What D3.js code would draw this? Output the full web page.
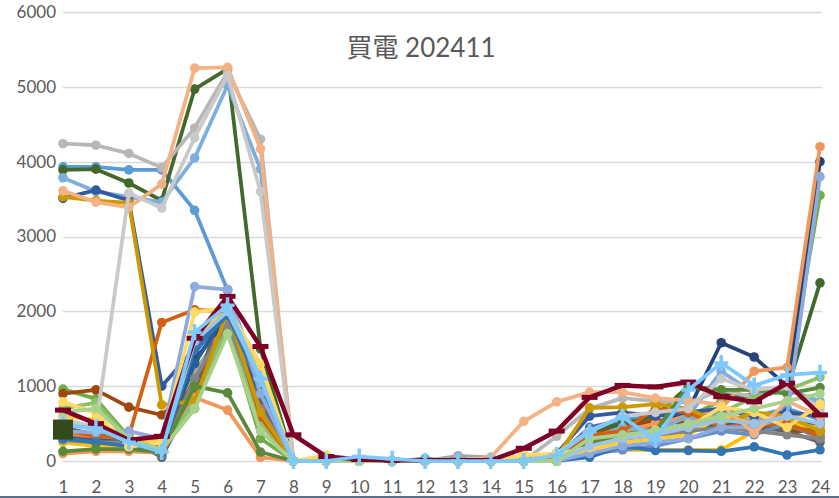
<!DOCTYPE html>
<html><head><meta charset="utf-8">
<script src="https://cdn.jsdelivr.net/npm/d3@7"></script>
<style>
body{margin:0;background:#fff;}
text{font-family:Lato,"Noto Sans CJK TC",sans-serif;}
</style></head>
<body><svg id="c" width="839" height="498"></svg>
<script>
const title = "買電 202411";
const hours = d3.range(1, 25);
const yTicks = [0, 1000, 2000, 3000, 4000, 5000, 6000];

const d01 = [350,300,280,250,1450,1950,950,0,0,0,0,0,0,0,0,50,450,550,500,600,650,500,600,480];
const d02 = [380,300,300,280,1100,1900,550,0,0,0,0,0,0,0,0,30,300,450,650,600,500,550,500,350];
const d03 = [280,220,220,100,1200,1800,700,0,0,0,0,0,70,50,0,50,300,450,500,550,600,550,650,450];
const d04 = [250,200,200,150,1000,1900,500,0,30,0,0,0,0,0,0,0,100,150,150,150,150,400,500,450];
const d05 = [3930,3930,3890,3890,3350,2280,1000,0,0,0,0,30,0,0,0,20,350,550,600,650,700,600,700,550];
const d06 = [960,830,320,150,700,1780,300,0,0,0,0,0,0,0,0,0,300,400,500,600,800,900,1000,3550];
const d07 = [320,260,220,180,1350,1900,800,0,0,0,0,0,0,0,0,100,400,500,500,680,1580,1390,1000,4000];
const d08 = [900,950,720,615,1000,1900,800,0,0,0,0,0,0,0,0,50,350,450,550,500,450,500,400,400];
const d09 = [450,350,300,50,900,2290,800,0,0,0,0,0,0,0,0,50,250,300,350,400,500,450,400,250];
const d10 = [300,250,230,200,1100,1800,600,0,0,0,0,0,0,0,0,50,300,400,450,400,600,500,450,400];
const d11 = [300,280,250,200,1300,2000,900,0,0,0,0,0,0,0,0,80,300,350,400,500,500,500,550,500];
const d12 = [3890,3900,3715,3480,4970,5240,1500,0,0,0,0,0,0,0,0,50,400,500,600,1000,900,850,950,2380];
const d13 = [280,250,220,180,1600,1900,1000,0,0,0,0,0,0,0,0,0,100,150,200,300,400,350,500,300];
const d14 = [100,130,130,110,850,680,50,0,0,0,0,0,0,0,0,50,300,400,500,600,700,1200,1250,4200];
const d15 = [4240,4220,4110,3920,4450,5200,4300,0,0,0,0,0,30,30,0,330,700,840,800,780,950,850,1000,750];
const d16 = [600,550,300,250,1700,2000,1200,0,0,0,0,0,0,0,0,0,150,250,300,350,600,500,550,650];
const d17 = [3785,3600,3530,3460,4050,5020,3900,0,0,0,0,0,0,0,0,50,300,450,400,600,1200,900,950,800];
const d18 = [700,780,300,150,800,1850,500,0,0,0,0,0,0,0,0,0,200,300,400,400,650,850,950,1120];
const d19 = [3510,3620,3480,1000,1500,2000,1000,0,0,0,0,0,0,0,0,100,600,650,600,650,700,600,650,600];
const d20 = [420,330,330,1850,2020,2000,590,0,0,0,0,0,0,0,0,30,350,400,700,650,450,500,500,330];
const d21 = [300,250,250,80,1100,1850,700,0,0,0,0,0,0,0,0,50,250,300,350,400,450,400,350,300];
const d22 = [3530,3480,3450,750,800,2000,650,0,0,0,0,0,0,0,0,50,710,720,760,700,500,650,600,400];
const d23 = [300,250,200,100,1500,1950,1000,0,0,0,0,0,0,0,0,0,50,200,140,140,130,190,80,150];
const d24 = [130,160,160,120,1000,910,120,0,0,0,0,0,0,0,0,0,250,350,400,1000,950,950,900,980];
const d25 = [400,380,400,300,2330,2290,900,0,0,0,0,0,0,0,0,0,100,200,250,300,450,450,600,3800];
const d26 = [3610,3460,3390,3700,5250,5260,4170,0,0,0,0,0,0,50,530,790,920,920,840,810,750,370,800,600];
const d27 = [560,450,3580,3380,4320,5150,3600,0,0,0,0,0,0,0,0,100,400,600,650,700,1100,950,1000,700];
const d28 = [790,640,190,250,1990,2050,1300,0,80,0,0,0,0,0,80,100,180,310,410,450,720,650,450,760];
const d29 = [500,420,300,150,1600,2000,1100,0,0,0,0,0,0,0,0,0,200,300,350,450,550,500,600,500];
const d30 = [650,700,300,150,700,1700,400,0,0,0,0,0,0,0,0,0,300,350,400,500,600,700,800,900];
const d31 = [680,500,280,330,1640,2200,1530,350,60,20,10,10,10,10,170,400,850,1010,990,1055,860,790,1040,615];
const d32 = [480,440,250,120,1720,2080,1100,0,0,60,30,0,0,0,0,80,390,590,280,950,1310,1010,1150,1180];
const d33 = [420,null,null,null,null,null,null,null,null,null,null,null,null,null,null,null,null,null,null,null,null,null,null,null];

const seriesData = [d01,d02,d03,d04,d05,d06,d07,d08,d09,d10,d11,d12,d13,d14,d15,d16,d17,d18,d19,d20,d21,d22,d23,d24,d25,d26,d27,d28,d29,d30,d31,d32,d33];
const seriesColors = ["#4472C4","#ED7D31","#A5A5A5","#FFC000","#5B9BD5","#70AD47","#264478","#9E480E","#636363","#997300",
  "#255E91","#43682B","#698ED0","#F1975A","#B7B7B7","#FFCD33","#7CAFDD","#8CC168","#335AA1","#D26012",
  "#848484","#CC9A00","#3275B2","#5A8A39","#8FAADC","#F4B183","#C9C9C9","#FFD966","#9DC3E6","#A9D18E",
  "#7F0026","#7CC8FF","#344A18"];
const seriesMarkers = d3.range(30).map(() => "circle").concat(["dash","plus","square"]);

const svg = d3.select("#c");
svg.append("rect").attr("width",839).attr("height",498).attr("fill","#fff");

const x = d3.scalePoint().domain(hours).range([63, 820]);
const y = d3.scaleLinear().domain([0, 6000]).range([461, 12]);

// gridlines
svg.append("g").selectAll("line").data(yTicks).join("line")
  .attr("x1", 63).attr("x2", 822)
  .attr("y1", d => Math.round(y(d)) + 0.5).attr("y2", d => Math.round(y(d)) + 0.5)
  .attr("stroke", "#D9D9D9").attr("stroke-width", 1.5);

// axes
const ya = svg.append("g").attr("transform","translate(63,0)")
  .call(d3.axisLeft(y).tickValues(yTicks).tickFormat(d3.format("d")).tickSize(0).tickPadding(7));
ya.select(".domain").remove();
ya.selectAll("text").attr("font-size", 17).attr("fill", "#595959").style("font-family","Lato,sans-serif");

const xa = svg.append("g").attr("transform","translate(0,461)")
  .call(d3.axisBottom(x).tickSize(0).tickPadding(20));
xa.select(".domain").remove();
xa.selectAll("text").attr("font-size", 17).attr("fill", "#595959").style("font-family","Lato,sans-serif");

// title
svg.append("text").attr("x", 421).attr("y", 57).attr("text-anchor","middle")
  .attr("font-size", 26).attr("fill", "#595959").text(title);

const line = d3.line().defined(d => d[1] != null).x(d => x(d[0])).y(d => y(d[1]));

seriesData.forEach((vals, i) => {
  const pts = hours.map((h, k) => [h, vals[k]]);
  const col = seriesColors[i];
  const g = svg.append("g");
  const w = i === 30 ? 4.5 : 3.75;
  g.append("path").datum(pts).attr("d", line).attr("fill","none")
    .attr("stroke", col).attr("stroke-width", w).attr("stroke-linejoin","round").attr("stroke-linecap","round");
  const valid = pts.filter(d => d[1] != null);
  const m = seriesMarkers[i];
  if (m === "circle") {
    g.selectAll("circle").data(valid).join("circle")
      .attr("cx", d => x(d[0])).attr("cy", d => y(d[1])).attr("r", 4.8).attr("fill", col);
  } else if (m === "dash") {
    g.selectAll("rect").data(valid).join("rect")
      .attr("x", d => x(d[0]) - 8).attr("y", d => y(d[1]) - 2.5).attr("width", 16).attr("height", 5).attr("fill", col);
  } else if (m === "plus") {
    g.selectAll("path.pl").data(valid).join("path").attr("class","pl")
      .attr("d", d => `M${x(d[0])-7},${y(d[1])}H${x(d[0])+7}M${x(d[0])},${y(d[1])-8}V${y(d[1])+8}`)
      .attr("stroke", col).attr("stroke-width", 3.5);
  } else {
    g.selectAll("rect").data(valid).join("rect")
      .attr("x", d => x(d[0]) - 10).attr("y", d => y(d[1]) - 10).attr("width", 20).attr("height", 20).attr("fill", col);
  }
});

// bottom frame line
svg.append("line").attr("x1",0).attr("x2",839).attr("y1",497).attr("y2",497)
  .attr("stroke","#5B6E8C").attr("stroke-width",2);
</script></body></html>
